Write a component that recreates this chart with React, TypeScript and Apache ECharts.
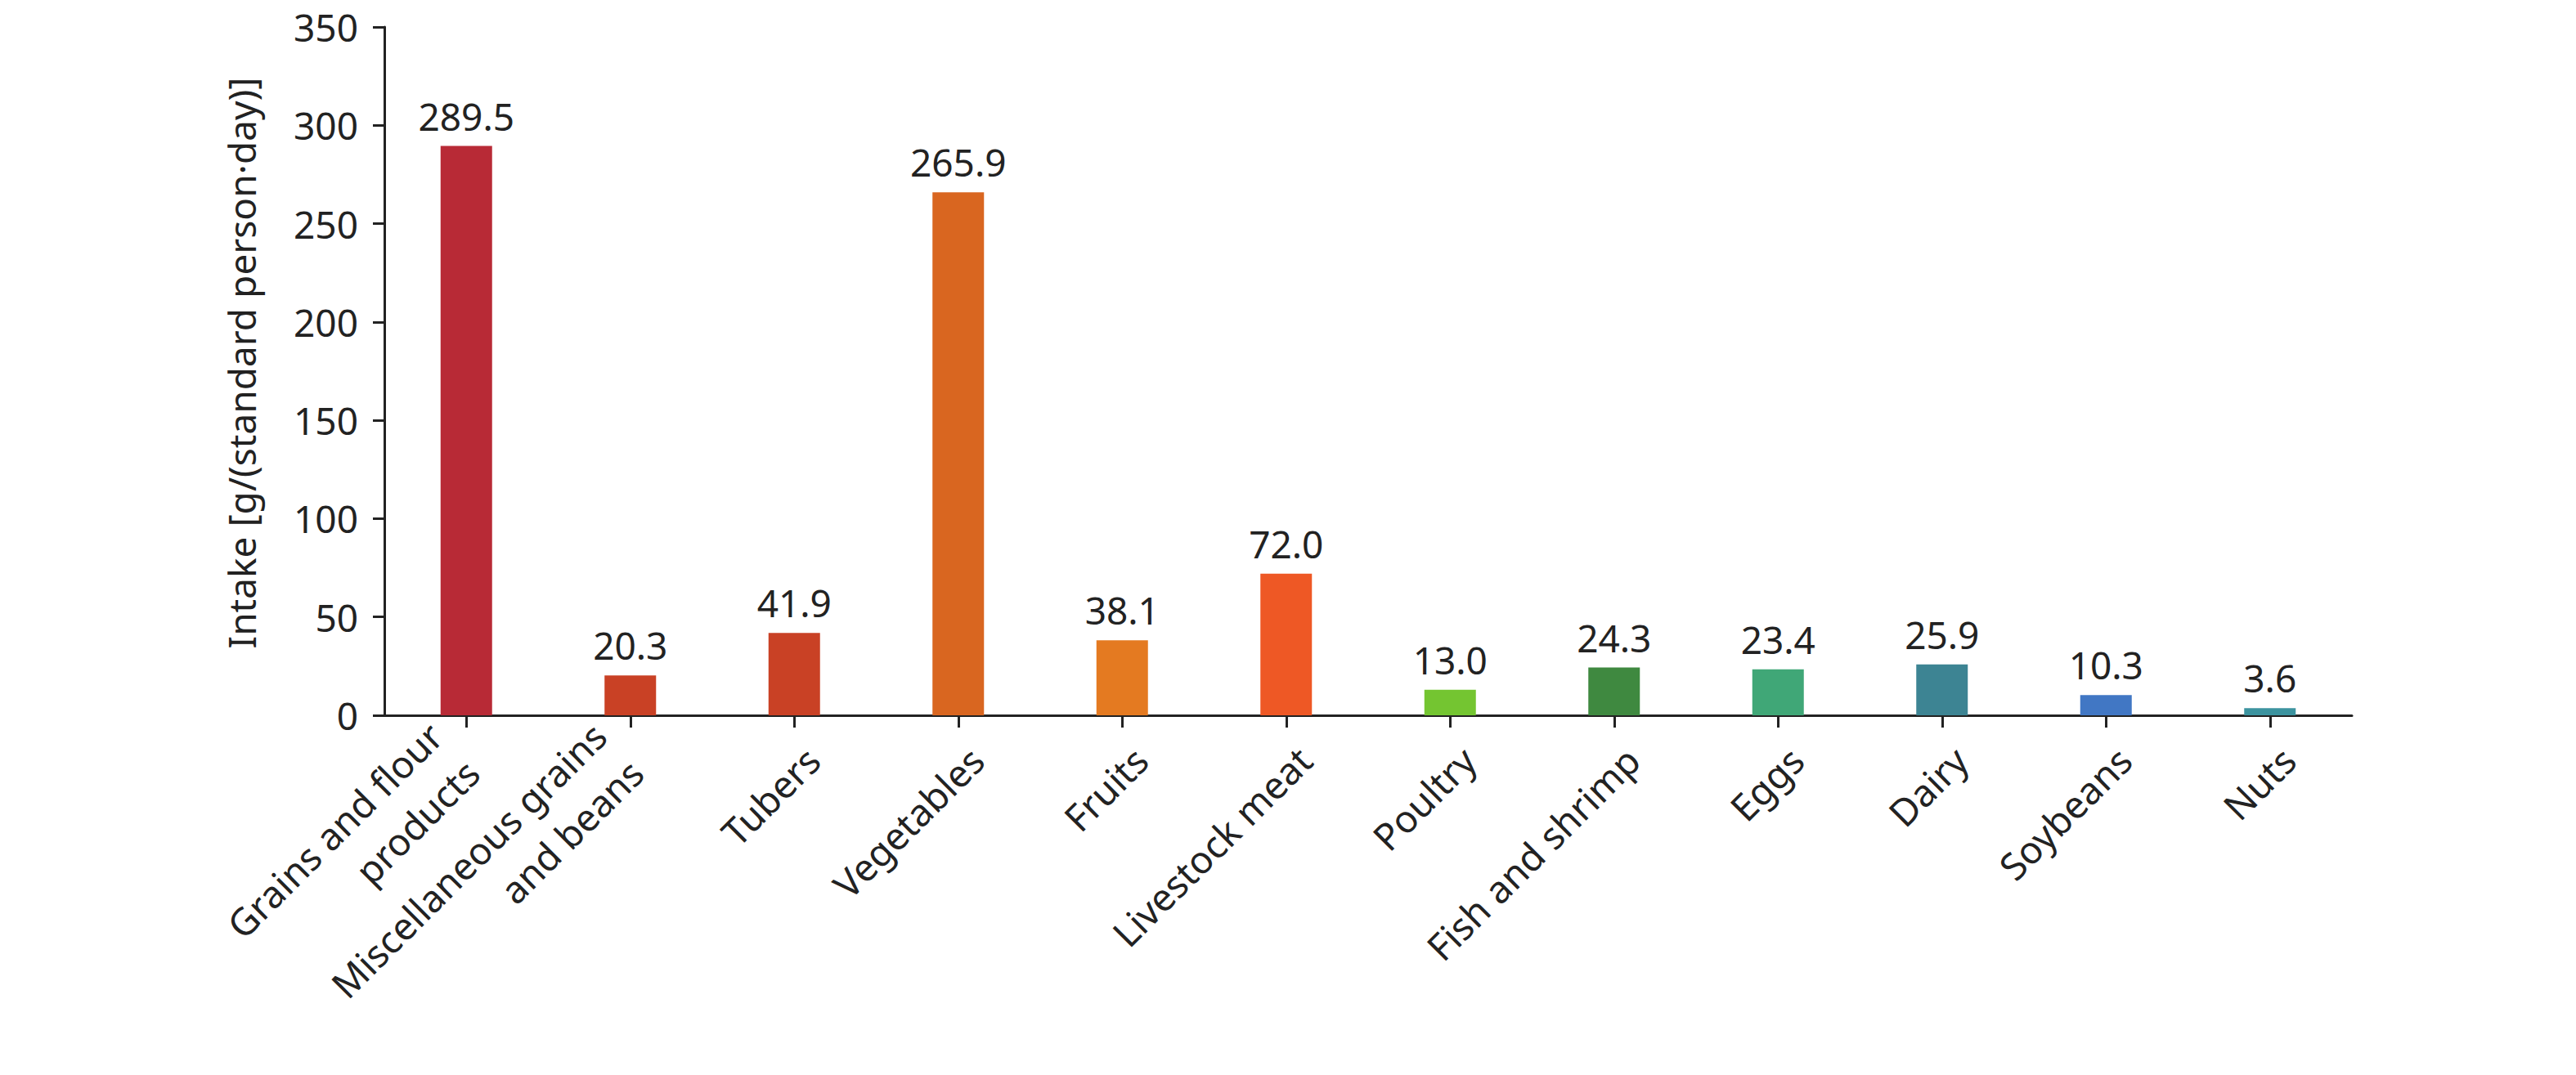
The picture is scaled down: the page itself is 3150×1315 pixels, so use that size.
import React, { useEffect, useRef } from "react";
import * as echarts from "echarts";

const categories = [
  "Grains and flour\nproducts",
  "Miscellaneous grains\nand beans",
  "Tubers",
  "Vegetables",
  "Fruits",
  "Livestock meat",
  "Poultry",
  "Fish and shrimp",
  "Eggs",
  "Dairy",
  "Soybeans",
  "Nuts",
];
const values = [289.5, 20.3, 41.9, 265.9, 38.1, 72.0, 13.0, 24.3, 23.4, 25.9, 10.3, 3.6];
const colors = [
  "#B82A36",
  "#C94125",
  "#C94125",
  "#D96620",
  "#E47A21",
  "#EE5825",
  "#74C531",
  "#3F8940",
  "#40A777",
  "#3D8493",
  "#4177C4",
  "#3C939F",
];
const yAxisName = "Intake [g/(standard person·day)]";
const yMin = 0;
const yMax = 350;
const yInterval = 50;

const FONT = "Noto Sans";
const FS = 46;
const INK = "#222222";

export default function App() {
  const ref = useRef<HTMLDivElement>(null);
  useEffect(() => {
    document.body.style.margin = "0";
    const chart = echarts.init(ref.current!, undefined, { renderer: "svg" });
    chart.setOption({
      animation: false,
      backgroundColor: "#ffffff",
      grid: { left: 470, top: 33, width: 2406, height: 842, containLabel: false },
      xAxis: {
        type: "category",
        data: categories.map((c) =>
          c.indexOf("\n") >= 0 ? { value: c, textStyle: { padding: [0, 22, 0, 0] } } : c
        ),
        boundaryGap: true,
        axisLine: { show: true, lineStyle: { color: INK, width: 3 } },
        axisTick: { show: true, alignWithLabel: true, length: 15, lineStyle: { color: INK, width: 3 } },
        axisLabel: {
          interval: 0,
          rotate: 45,
          margin: 24,
          color: INK,
          fontFamily: FONT,
          fontSize: FS,
          lineHeight: 64,
          align: "right",
          verticalAlign: "top",
        },
        splitLine: { show: false },
      },
      yAxis: {
        type: "value",
        min: yMin,
        max: yMax,
        interval: yInterval,
        name: yAxisName,
        nameLocation: "middle",
        nameGap: 152,
        nameTextStyle: { color: INK, fontFamily: FONT, fontSize: FS, padding: [0, 0, 0, 20] },
        axisLine: { show: true, lineStyle: { color: INK, width: 3 } },
        axisTick: { show: true, length: 14, lineStyle: { color: INK, width: 3 } },
        axisLabel: { margin: 32, color: INK, fontFamily: FONT, fontSize: FS, lineHeight: 46 },
        splitLine: { show: false },
      },
      series: [
        {
          type: "bar",
          barWidth: 63,
          data: values.map((v, i) => ({ value: v, itemStyle: { color: colors[i] } })),
          label: {
            show: true,
            position: "top",
            distance: 14,
            color: INK,
            fontFamily: FONT,
            fontSize: FS,
            formatter: (p: any) => Number(p.value).toFixed(1),
          },
        },
      ],
    });
    return () => chart.dispose();
  }, []);
  return <div ref={ref} style={{ width: 3150, height: 1315 }} />;
}
